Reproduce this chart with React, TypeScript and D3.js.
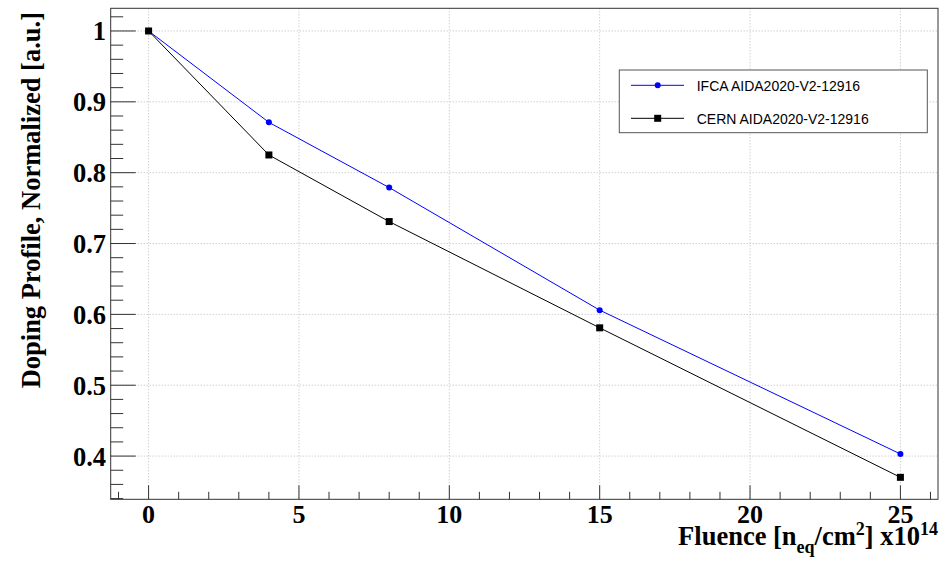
import React from "react";
import * as d3 from "d3";

const fluence = [0, 4, 8, 15, 25];
const ifcaValues = [1.0, 0.871, 0.779, 0.606, 0.403];
const cernValues = [1.0, 0.825, 0.731, 0.581, 0.37];
const xTickValues = [0, 5, 10, 15, 20, 25];
const yTickValues = [0.4, 0.5, 0.6, 0.7, 0.8, 0.9, 1.0];
const seriesNames = ["IFCA AIDA2020-V2-12916", "CERN AIDA2020-V2-12916"];

const W = 946;
const H = 563;
const L = 110.7, R = 938, T = 8.3, B = 499.3;

export default function App() {
  const x = d3.scaleLinear().domain([-1.26, 26.25]).range([L, R]);
  const y = d3.scaleLinear().domain([0.339, 1.032]).range([B, T]);
  const line = d3.line<[number, number]>().x(d => x(d[0])).y(d => y(d[1]));
  const ifca: [number, number][] = fluence.map((f, i) => [f, ifcaValues[i]]);
  const cern: [number, number][] = fluence.map((f, i) => [f, cernValues[i]]);

  const xMinor = d3.range(-1, 27, 1);
  const yMinor = d3.range(0.34, 1.031, 0.02);
  const serif = "'Liberation Serif', 'Times New Roman', serif";
  const sans = "'Liberation Sans', Arial, sans-serif";

  return (
    <svg width={W} height={H} style={{ position: "absolute", left: 0, top: 0, background: "#fff" }}>
      <rect x={0} y={0} width={W} height={H} fill="#fff" />
      {/* grid */}
      <g stroke="#bbb" strokeWidth={1} strokeDasharray="1,2">
        {xTickValues.map(v => (
          <line key={"gx" + v} x1={x(v)} x2={x(v)} y1={T} y2={B} />
        ))}
        {yTickValues.map(v => (
          <line key={"gy" + v} x1={L} x2={R} y1={y(v)} y2={y(v)} />
        ))}
      </g>
      {/* ticks */}
      <g stroke="#333" strokeWidth={1}>
        {xMinor.map(v => {
          const major = v % 5 === 0;
          return <line key={"xt" + v} x1={x(v)} x2={x(v)} y1={B} y2={B - (major ? 14 : 7.5)} />;
        })}
        {yMinor.map(v => {
          const r = Math.round(v * 100) / 100;
          const major = Math.abs(r * 10 - Math.round(r * 10)) < 1e-6;
          return <line key={"yt" + r} x1={L} x2={L + (major ? 25 : 12.5)} y1={y(r)} y2={y(r)} />;
        })}
      </g>
      {/* frame */}
      <rect x={L} y={T} width={R - L} height={B - T} fill="none" stroke="#333" strokeWidth={1} />
      {/* tick labels */}
      <g fontFamily={serif} fontWeight="bold" fontSize={26} fill="#000">
        {xTickValues.map(v => (
          <text key={"xl" + v} x={x(v)} y={523} textAnchor="middle">{v}</text>
        ))}
      </g>
      <g fontFamily={serif} fontWeight="bold" fontSize={26.5} fill="#000">
        {yTickValues.map(v => (
          <text key={"yl" + v} x={106} y={y(v) + 9.5} textAnchor="end">{v === 1 ? "1" : v.toFixed(1)}</text>
        ))}
      </g>
      {/* axis titles */}
      <text x={938} y={545} textAnchor="end" fontFamily={serif} fontWeight="bold" fontSize={26.5}>
        Fluence [n<tspan fontSize={18} dy={8}>eq</tspan><tspan dy={-8}>/cm</tspan><tspan fontSize={18} dy={-10}>2</tspan><tspan dy={10}>] x10</tspan><tspan fontSize={18} dy={-10}>14</tspan>
      </text>
      <text transform={`translate(40,12) rotate(-90)`} textAnchor="end" fontFamily={serif} fontWeight="bold" fontSize={26.5}>
        Doping Profile, Normalized [a.u.]
      </text>
      {/* series */}
      <path d={line(cern) || ""} fill="none" stroke="#000" strokeWidth={1} />
      <path d={line(ifca) || ""} fill="none" stroke="#0000ff" strokeWidth={1} />
      {ifca.map((d, i) => (
        <circle key={"ci" + i} cx={x(d[0])} cy={y(d[1])} r={3} fill="#0000ff" />
      ))}
      {cern.map((d, i) => (
        <rect key={"sq" + i} x={x(d[0]) - 3.5} y={y(d[1]) - 3.5} width={7} height={7} fill="#000" />
      ))}
      {/* legend */}
      <rect x={619.3} y={70} width={308} height={62.7} fill="#fff" stroke="#555" strokeWidth={1} />
      <line x1={631} x2={684} y1={85.3} y2={85.3} stroke="#0000ff" strokeWidth={1} />
      <circle cx={657.7} cy={85.3} r={3} fill="#0000ff" />
      <text x={696.7} y={90.5} fontFamily={sans} fontSize={14}>{seriesNames[0]}</text>
      <line x1={631} x2={684} y1={118.3} y2={118.3} stroke="#000" strokeWidth={1} />
      <rect x={654.2} y={114.8} width={7} height={7} fill="#000" />
      <text x={696.7} y={123.5} fontFamily={sans} fontSize={14}>{seriesNames[1]}</text>
    </svg>
  );
}
